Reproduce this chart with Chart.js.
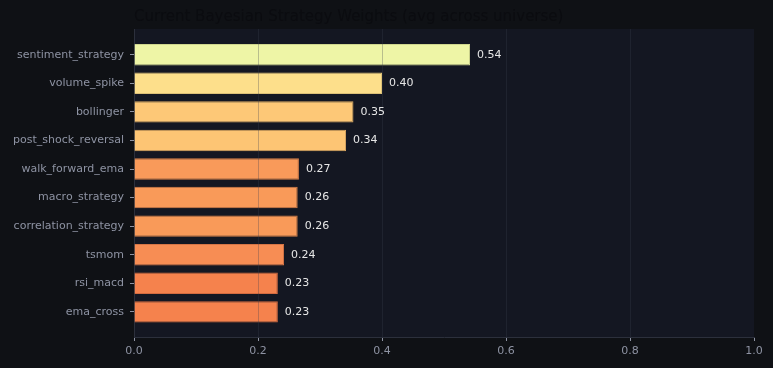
<!DOCTYPE html>
<html>
<head>
<meta charset="utf-8">
<script src="https://cdn.jsdelivr.net/npm/chart.js@4.4.1/dist/chart.umd.min.js"></script>
<style>
  body { margin: 0; background: #0f1115; }
  canvas { display: block; }
</style>
</head>
<body>
<canvas id="myChart" width="773" height="368"></canvas>
<script>
const strategies = ['sentiment_strategy', 'volume_spike', 'bollinger', 'post_shock_reversal', 'walk_forward_ema',
    'macro_strategy', 'correlation_strategy', 'tsmom', 'rsi_macd', 'ema_cross'];
const weights = [0.542, 0.400, 0.354, 0.342, 0.266, 0.264, 0.264, 0.242, 0.232, 0.232];
const xTicks = [0, 0.2, 0.4, 0.6, 0.8, 1.0];
const barColors = ['#eef5a6', '#fddf8b', '#fdc877', '#fdc574', '#f99a5a',
    '#f99a59', '#f99a59', '#f78d54', '#f5824d', '#f5824d'];
const edgeColors = ['#cfd68e', '#dcc077', '#dcab63', '#dca862', '#d8804a',
    '#d88049', '#d88049', '#d67546', '#d46b40', '#d46b40'];

const fontFamily = "'DejaVu Sans', sans-serif";

const bgPlugin = {
    id: 'bg',
    beforeDraw(chart) {
        const { ctx, chartArea: a } = chart;
        ctx.save();
        ctx.fillStyle = '#0f1115';
        ctx.fillRect(0, 0, chart.width, chart.height);
        ctx.fillStyle = '#141722';
        ctx.fillRect(a.left, a.top, a.right - a.left, a.bottom - a.top);
        ctx.restore();
    },
    afterDraw(chart) {
        const { ctx, chartArea: a } = chart;
        ctx.save();
        ctx.font = '15px ' + fontFamily;
        ctx.fillStyle = '#0b0c10';
        ctx.textBaseline = 'alphabetic';
        ctx.fillText('Current Bayesian Strategy Weights (avg across universe)', a.left, 21);
        ctx.restore();
    }
};

// grid over the bars, like the reference
const gridOnTop = {
    id: 'gridOnTop',
    afterDatasetsDraw(chart) {
        const { ctx, chartArea: a } = chart;
        const xs = chart.scales.x;
        ctx.save();
        ctx.strokeStyle = 'rgba(60, 64, 78, 0.3)';
        ctx.lineWidth = 1;
        xTicks.slice(1, -1).forEach(v => {
            const px = Math.round(xs.getPixelForValue(v)) + 0.5;
            ctx.beginPath();
            ctx.moveTo(px, a.top);
            ctx.lineTo(px, a.bottom);
            ctx.stroke();
        });
        ctx.restore();
    }
};

const valueLabels = {
    id: 'valueLabels',
    afterDatasetsDraw(chart) {
        const { ctx } = chart;
        const meta = chart.getDatasetMeta(0);
        ctx.save();
        ctx.font = '11px ' + fontFamily;
        ctx.fillStyle = '#e6e6e6';
        ctx.textBaseline = 'middle';
        meta.data.forEach((bar, i) => {
            ctx.fillText(weights[i].toFixed(2), bar.x + 7, bar.y);
        });
        ctx.restore();
    }
};

const ctx = document.getElementById('myChart');

new Chart(ctx, {
    type: 'bar',
    data: {
        datasets: [{
            data: weights.map((w, i) => ({ x: w, y: i })),
            backgroundColor: barColors,
            borderColor: edgeColors,
            borderWidth: 1,
            barPercentage: 0.75,
            categoryPercentage: 1
        }]
    },
    options: {
        responsive: false,
        devicePixelRatio: 1,
        animation: false,
        indexAxis: 'y',
        layout: { padding: { top: 29, right: 19, left: 0, bottom: 0 } },
        plugins: {
            legend: { display: false },
            title: { display: false },
            tooltip: { enabled: false }
        },
        scales: {
            x: {
                type: 'linear',
                min: 0,
                max: 1,
                afterBuildTicks: (scale) => { scale.ticks = xTicks.map(v => ({ value: v })); },
                afterFit: (scale) => { scale.height = 31; },
                ticks: {
                    color: '#8e93a3',
                    font: { size: 11, family: fontFamily },
                    padding: 4,
                    callback: (v) => Number(v).toFixed(1)
                },
                grid: {
                    drawOnChartArea: false,
                    tickColor: '#8e93a3',
                    tickLength: 4
                },
                border: { color: '#2c303c' }
            },
            y: {
                type: 'linear',
                reverse: true,
                offset: false,
                min: -0.9,
                max: 9.88,
                afterBuildTicks: (scale) => { scale.ticks = strategies.map((_, i) => ({ value: i })); },
                afterFit: (scale) => { scale.width = 134; },
                ticks: {
                    color: '#8e93a3',
                    font: { size: 11, family: fontFamily },
                    padding: 6,
                    callback: (v) => strategies[v]
                },
                grid: {
                    offset: false,
                    drawOnChartArea: false,
                    tickColor: '#8e93a3',
                    tickLength: 4
                },
                border: { color: '#2c303c' }
            }
        }
    },
    plugins: [bgPlugin, gridOnTop, valueLabels]
});
</script>
</body>
</html>
